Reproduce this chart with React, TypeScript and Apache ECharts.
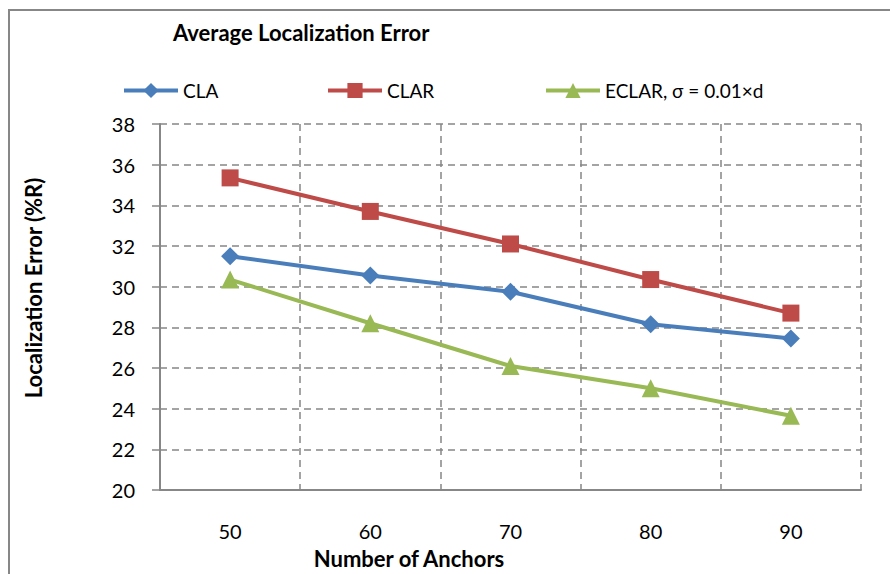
import React, { useEffect, useRef } from "react";
import * as echarts from "echarts";

const categories = ["50", "60", "70", "80", "90"];
const claValues = [31.5, 30.55, 29.75, 28.15, 27.45];
const clarValues = [35.35, 33.7, 32.1, 30.35, 28.7];
const eclarValues = [30.35, 28.2, 26.1, 25.0, 23.65];
const seriesNames = ["CLA", "CLAR", "ECLAR, σ = 0.01×d"];
const yMin = 20;
const yMax = 38;
const yStep = 2;

const FONT = "Lato";
const GRID_COLOR = "#878787";

export default function App() {
  const ref = useRef<HTMLDivElement>(null);
  useEffect(() => {
    if (!ref.current) return;
    const chart = echarts.init(ref.current, undefined, { renderer: "svg" });
    const colors = ["#4A7EBB", "#BE4B48", "#98B954"];
    const symbols = ["diamond", "rect", "triangle"];
    const symbolSizes = [18, 17, 18];
    const datas = [claValues, clarValues, eclarValues];
    const legendLefts = [117, 321, 539];
    chart.setOption({
      animation: false,
      textStyle: { fontFamily: FONT },
      grid: { left: 160, right: 29, top: 124, bottom: 84, containLabel: false },
      legend: seriesNames.map((n, i) => ({
        data: [n],
        left: legendLefts[i],
        top: 76,
        itemWidth: 54,
        itemHeight: 19,
        itemGap: 0,
        lineStyle: { width: 4 },
        textStyle: { fontFamily: FONT, fontSize: 19, color: "#000" },
      })),
      xAxis: {
        type: "category",
        data: categories,
        boundaryGap: true,
        axisLine: { lineStyle: { color: GRID_COLOR, width: 2 } },
        axisTick: { show: false },
        axisLabel: { fontFamily: FONT, fontSize: 20, color: "#000", margin: 31 },
        splitLine: { show: true, lineStyle: { color: GRID_COLOR, type: [7, 5], width: 1.5 } },
      },
      yAxis: {
        type: "value",
        min: yMin,
        max: yMax,
        interval: yStep,
        axisLine: { show: true, lineStyle: { color: GRID_COLOR, width: 2 } },
        axisTick: { show: true, length: 8, lineStyle: { color: GRID_COLOR, width: 1.5 } },
        axisLabel: { fontFamily: FONT, fontSize: 20, color: "#000", margin: 25 },
        splitLine: { show: true, lineStyle: { color: GRID_COLOR, type: [7, 5], width: 1.5 } },
      },
      graphic: [
        {
          type: "rect",
          shape: { x: 9, y: 10, width: 900, height: 600 },
          style: { fill: "none", stroke: GRID_COLOR, lineWidth: 2 },
          silent: true,
        },
        {
          type: "text",
          x: 173,
          y: 32,
          style: {
            text: "Average Localization Error",
            fontFamily: FONT,
            fontWeight: "bold",
            fontSize: 22,
            fill: "#000",
            align: "left",
            verticalAlign: "middle",
          },
        },
        {
          type: "text",
          x: 409,
          y: 558,
          style: {
            text: "Number of Anchors",
            fontFamily: FONT,
            fontWeight: "bold",
            fontSize: 22,
            fill: "#000",
            align: "center",
            verticalAlign: "middle",
          },
        },
        {
          type: "text",
          x: 33,
          y: 288,
          rotation: Math.PI / 2,
          style: {
            text: "Localization Error (%R)",
            fontFamily: FONT,
            fontWeight: "bold",
            fontSize: 22,
            fill: "#000",
            align: "center",
            verticalAlign: "middle",
          },
        },
      ],
      series: seriesNames.map((n, i) => ({
        name: n,
        type: "line",
        data: datas[i],
        symbol: symbols[i],
        symbolSize: symbolSizes[i],
        showSymbol: true,
        lineStyle: { color: colors[i], width: 4 },
        itemStyle: { color: colors[i] },
      })),
    });
    return () => chart.dispose();
  }, []);
  return <div ref={ref} style={{ position: "absolute", left: 0, top: 0, width: 890, height: 574 }} />;
}
